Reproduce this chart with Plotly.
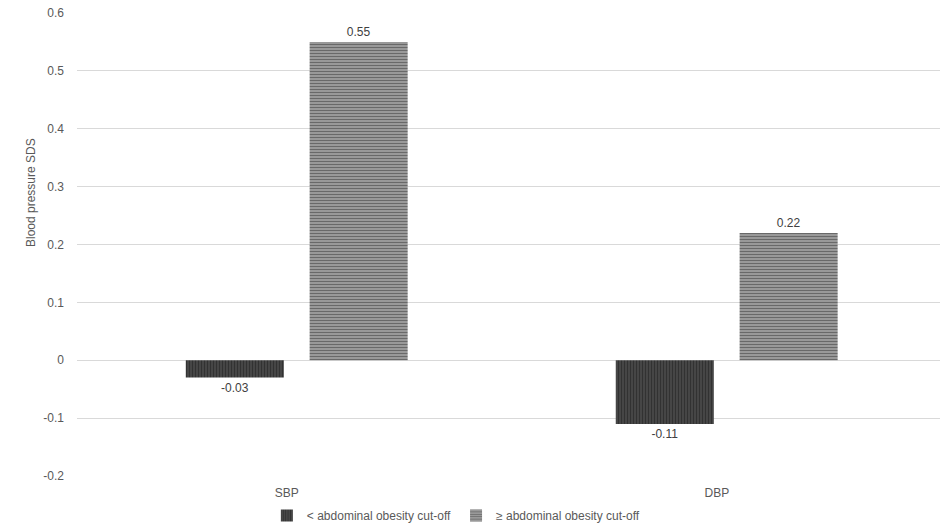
import plotly.graph_objects as go

categories = ["SBP", "DBP"]
below_cutoff = [-0.03, -0.11]
above_cutoff = [0.55, 0.22]
series_names = ["< abdominal obesity cut-off", "≥ abdominal obesity cut-off"]
y_ticks = [-0.2, -0.1, 0, 0.1, 0.2, 0.3, 0.4, 0.5, 0.6]
y_ticklabels = ["-0.2", "-0.1", "0", "0.1", "0.2", "0.3", "0.4", "0.5", "0.6"]

FONT = "Liberation Sans, Arial, sans-serif"

fig = go.Figure()
fig.add_trace(go.Bar(
    x=categories, y=below_cutoff, name=series_names[0],
    width=0.228, offset=-0.235,
    marker=dict(color="#3c3c3c", line=dict(width=0),
                pattern=dict(shape="|", size=3, solidity=0.35, fgcolor="#1e1e1e", bgcolor="#464646")),
    text=[f"{v:.2f}" for v in below_cutoff], textposition="outside",
    textfont=dict(size=12, color="#404040", family=FONT), cliponaxis=False,
))
fig.add_trace(go.Bar(
    x=categories, y=above_cutoff, name=series_names[1],
    width=0.228, offset=0.053,
    marker=dict(color="#ffffff", line=dict(width=0),
                pattern=dict(shape="-", size=3, solidity=0.6, fgcolor="#1a1a1a", bgcolor="#b8b8b8")),
    text=[f"{v:.2f}" for v in above_cutoff], textposition="outside",
    textfont=dict(size=12, color="#404040", family=FONT), cliponaxis=False,
))

fig.update_layout(
    width=940, height=530,
    margin=dict(l=77, r=0, t=13, b=52),
    plot_bgcolor="white", paper_bgcolor="white",
    font=dict(family=FONT, size=12, color="#595959"),
    barmode="overlay",
    showlegend=True,
    legend=dict(orientation="h", x=0.439, y=-0.086, xanchor="center", yanchor="middle",
                font=dict(size=12, color="#595959"), itemwidth=30, tracegroupgap=0),
    xaxis=dict(range=[-0.488, 1.519], showgrid=False, showline=False, ticks="",
               ticklabelstandoff=8,
               tickfont=dict(size=12, color="#595959")),
    yaxis=dict(range=[-0.2, 0.6], tickvals=y_ticks, ticktext=y_ticklabels,
               showgrid=True, gridcolor="#d9d9d9", gridwidth=1,
               zeroline=True, zerolinecolor="#d9d9d9", zerolinewidth=1,
               showline=False, ticks="", ticklabelstandoff=12,
               tickfont=dict(size=12, color="#595959")),
    annotations=[dict(text="Blood pressure SDS", textangle=-90, xref="paper", yref="paper",
                      x=-0.054, y=0.612, showarrow=False, xanchor="center", yanchor="middle",
                      font=dict(size=12, color="#595959", family=FONT))],
)

fig.write_html("out.html")
